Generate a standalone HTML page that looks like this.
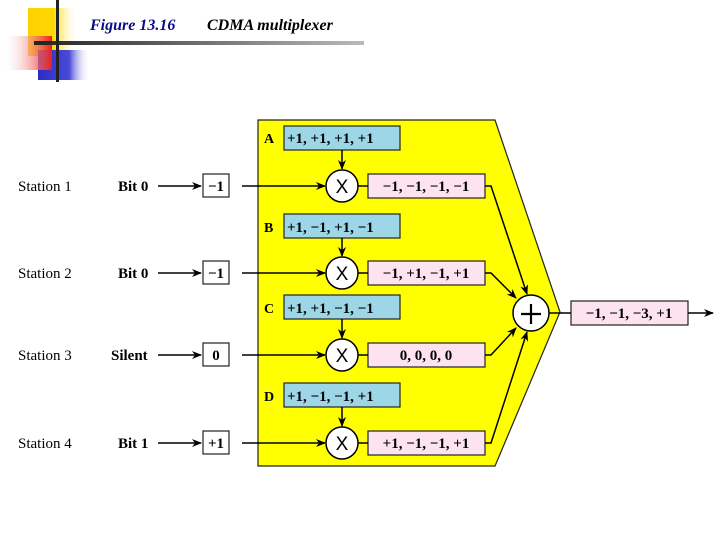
<!DOCTYPE html>
<html><head><meta charset="utf-8"><style>
html,body{margin:0;padding:0;background:#fff;width:720px;height:540px;overflow:hidden}
svg{display:block}
text{font-family:"Liberation Serif",serif}
.sans text{font-family:"Liberation Sans",sans-serif}
</style></head><body>
<svg width="720" height="540" viewBox="0 0 720 540" xmlns="http://www.w3.org/2000/svg">
<defs>
<linearGradient id="gy" x1="0" x2="1"><stop offset="0" stop-color="#ffd000"/><stop offset="0.5" stop-color="#ffd800"/><stop offset="1" stop-color="#fff" stop-opacity="0"/></linearGradient>
<linearGradient id="gr" x1="1" x2="0"><stop offset="0" stop-color="#e82020"/><stop offset="1" stop-color="#fff" stop-opacity="0.2"/></linearGradient>
<linearGradient id="gb" x1="0" x2="1"><stop offset="0" stop-color="#2a2ac8"/><stop offset="0.6" stop-color="#4a4ad8"/><stop offset="1" stop-color="#fff" stop-opacity="0"/></linearGradient>
<linearGradient id="gl" x1="0" x2="1"><stop offset="0" stop-color="#222"/><stop offset="1" stop-color="#bbb"/></linearGradient>
<marker id="ah" markerWidth="10" markerHeight="8" refX="9" refY="4" orient="auto" markerUnits="userSpaceOnUse"><path d="M0,0 L10,4 L0,8 L3,4z" fill="#000"/></marker>
</defs>
<rect x="28" y="8" width="50" height="48" fill="url(#gy)"/>
<rect x="38" y="50" width="52" height="30" fill="url(#gb)"/>
<rect x="6" y="36" width="46" height="34" fill="url(#gr)"/>
<rect x="34" y="41" width="330" height="4" fill="url(#gl)"/>
<rect x="56" y="0" width="3" height="82" fill="#222"/>
<text x="90" y="30" font-size="16" font-style="italic" font-weight="bold" fill="#0a0a8a">Figure 13.16</text>
<text x="207" y="30" font-size="16" font-style="italic" font-weight="bold" fill="#000">CDMA multiplexer</text>
<polygon points="258,120 495,120 560,312 495,466 258,466" fill="#ffff00" stroke="#222" stroke-width="1.2"/>
<g font-size="14" font-weight="bold">
<text x="264" y="143">A</text><text x="264" y="232">B</text><text x="264" y="313">C</text><text x="264" y="401">D</text>
</g>
<g fill="#9dd6e6" stroke="#222" stroke-width="1.2">
<rect x="284" y="126" width="116" height="24"/><rect x="284" y="214" width="116" height="24"/>
<rect x="284" y="295" width="116" height="24"/><rect x="284" y="383" width="116" height="24"/>
</g>
<g font-size="15" font-weight="bold">
<text x="287" y="143">+1, +1, +1, +1</text><text x="287" y="232">+1, −1, +1, −1</text>
<text x="287" y="313">+1, +1, −1, −1</text><text x="287" y="401">+1, −1, −1, +1</text>
</g>
<g fill="#fde3ef" stroke="#222" stroke-width="1.2">
<rect x="368" y="174" width="117" height="24"/><rect x="368" y="261" width="117" height="24"/>
<rect x="368" y="343" width="117" height="24"/><rect x="368" y="431" width="117" height="24"/>
<rect x="571" y="301" width="117" height="24"/>
</g>
<g font-size="15" font-weight="bold" text-anchor="middle">
<text x="426" y="191">−1, −1, −1, −1</text><text x="426" y="278">−1, +1, −1, +1</text>
<text x="426" y="360">0, 0, 0, 0</text><text x="426" y="448">+1, −1, −1, +1</text>
<text x="629" y="318">−1, −1, −3, +1</text>
</g>
<g stroke="#000" stroke-width="1.5" fill="none">
<line x1="342" y1="150" x2="342" y2="169" marker-end="url(#ah)"/>
<line x1="342" y1="238" x2="342" y2="256" marker-end="url(#ah)"/>
<line x1="342" y1="319" x2="342" y2="338" marker-end="url(#ah)"/>
<line x1="342" y1="407" x2="342" y2="426" marker-end="url(#ah)"/>
<line x1="242" y1="186" x2="325" y2="186" marker-end="url(#ah)"/>
<line x1="242" y1="273" x2="325" y2="273" marker-end="url(#ah)"/>
<line x1="242" y1="355" x2="325" y2="355" marker-end="url(#ah)"/>
<line x1="242" y1="443" x2="325" y2="443" marker-end="url(#ah)"/>
<line x1="358" y1="186" x2="368" y2="186"/><line x1="358" y1="273" x2="368" y2="273"/>
<line x1="358" y1="355" x2="368" y2="355"/><line x1="358" y1="443" x2="368" y2="443"/>
<polyline points="485,186 491,186 527,294" marker-end="url(#ah)"/>
<polyline points="485,273 491,273 516,298" marker-end="url(#ah)"/>
<polyline points="485,355 491,355 516,328" marker-end="url(#ah)"/>
<polyline points="485,443 491,443 527,332" marker-end="url(#ah)"/>
<line x1="549" y1="313" x2="571" y2="313"/>
<line x1="688" y1="313" x2="713" y2="313" marker-end="url(#ah)"/>
<line x1="158" y1="186" x2="201" y2="186" marker-end="url(#ah)"/>
<line x1="158" y1="273" x2="201" y2="273" marker-end="url(#ah)"/>
<line x1="158" y1="355" x2="201" y2="355" marker-end="url(#ah)"/>
<line x1="158" y1="443" x2="201" y2="443" marker-end="url(#ah)"/>
</g>
<g fill="#fff" stroke="#000" stroke-width="1.5">
<circle cx="342" cy="186" r="16"/><circle cx="342" cy="273" r="16"/>
<circle cx="342" cy="355" r="16"/><circle cx="342" cy="443" r="16"/>
<circle cx="531" cy="313" r="18"/>
</g>
<g class="sans" font-size="19" text-anchor="middle">
<text x="342" y="193">X</text><text x="342" y="280">X</text><text x="342" y="362">X</text><text x="342" y="450">X</text>
</g>
<g stroke="#000" stroke-width="2.2">
<line x1="521" y1="314" x2="541" y2="314"/><line x1="531" y1="304" x2="531" y2="324"/>
</g>
<g fill="#fff" stroke="#222" stroke-width="1.2">
<rect x="203" y="174" width="26" height="23"/><rect x="203" y="261" width="26" height="23"/>
<rect x="203" y="343" width="26" height="23"/><rect x="203" y="431" width="26" height="23"/>
</g>
<g font-size="15" font-weight="bold" text-anchor="middle">
<text x="216" y="191">−1</text><text x="216" y="278">−1</text><text x="216" y="360">0</text><text x="216" y="448">+1</text>
</g>
<g font-size="15">
<text x="18" y="191">Station 1</text><text x="18" y="278">Station 2</text>
<text x="18" y="360">Station 3</text><text x="18" y="448">Station 4</text>
</g>
<g font-size="15" font-weight="bold">
<text x="118" y="191">Bit 0</text><text x="118" y="278">Bit 0</text>
<text x="111" y="360">Silent</text><text x="118" y="448">Bit 1</text>
</g>
</svg>
</body></html>
